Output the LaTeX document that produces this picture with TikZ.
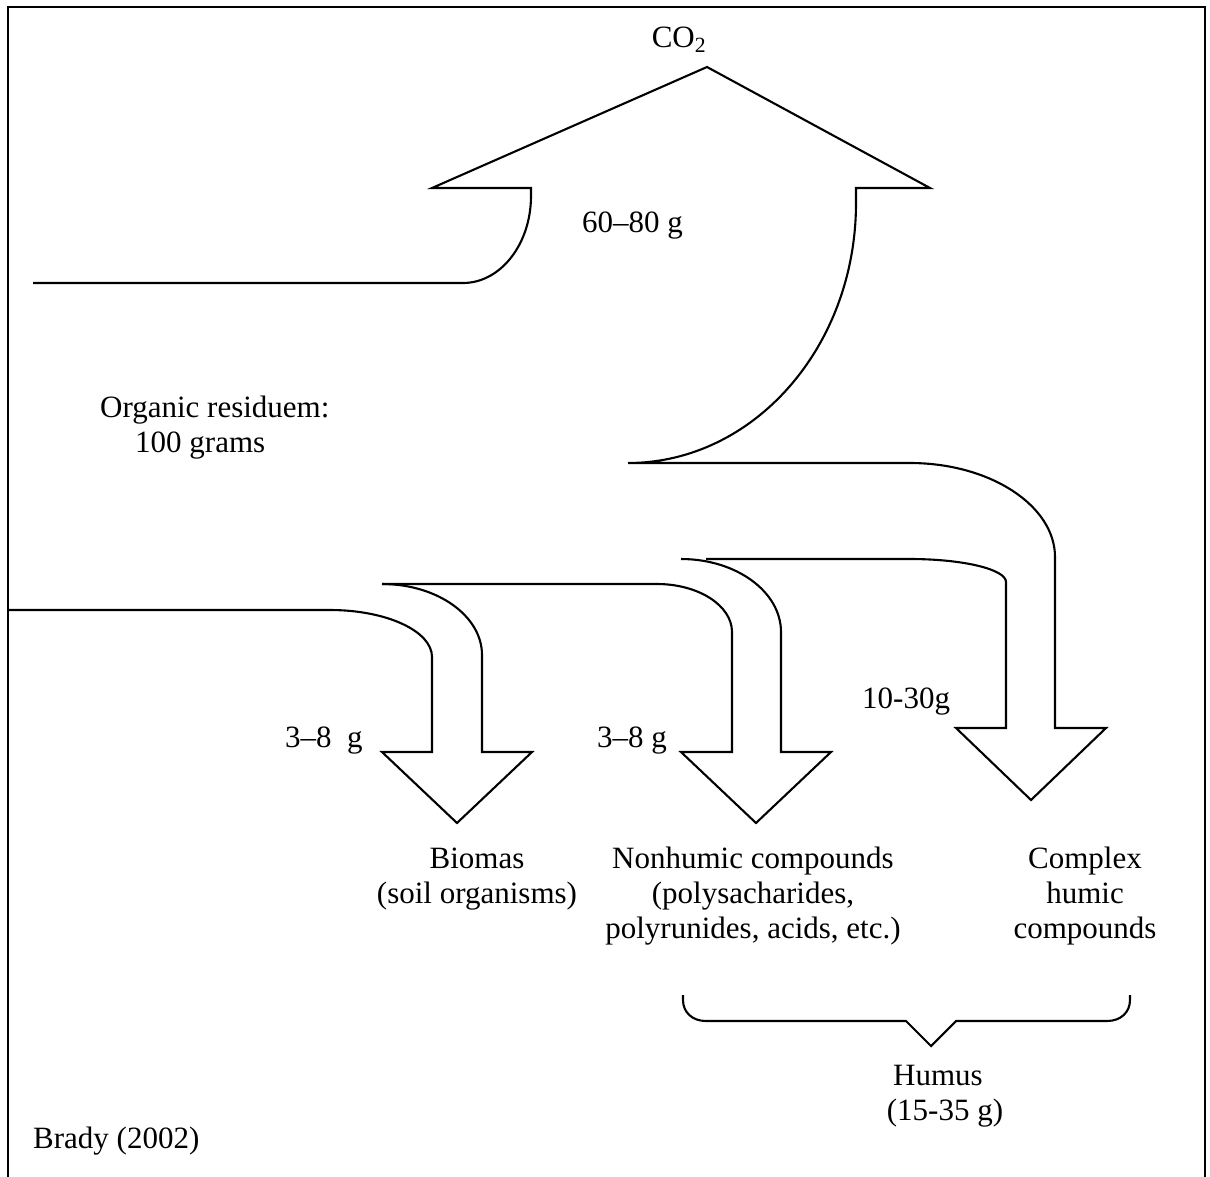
\documentclass[tikz,border=0pt]{standalone}
\usepackage{fontspec}
\setmainfont{Liberation Serif}
\begin{document}
\begin{tikzpicture}[x=1pt,y=-1pt,
  shape line/.style={line width=2.1pt, line join=miter},
  lbl/.style={inner sep=0pt, font=\fontsize{31}{35}\selectfont},
  lblc/.style={lbl, align=center}]
\useasboundingbox (0,0) rectangle (1210,1176);
% frame
\draw[line width=2.6pt] (8,1180) -- (8,7) -- (1205,7) -- (1205,1180);

% big up arrow (CO2) and the branch to complex humic compounds
\draw[shape line] (33,283) -- (463,283)
  .. controls (500.6,283) and (531,244) .. (531,196) -- (531,188)
  -- (432,188) -- (707,67) -- (930,188) -- (856,188) -- (856,203)
  .. controls (856,346.6) and (753.9,463) .. (628,463) -- (910,463)
  .. controls (990,463) and (1055,505.6) .. (1055,557) -- (1055,728)
  -- (1106,728) -- (1031,800) -- (956,728) -- (1006,728) -- (1006,582)
  .. controls (1006,569.3) and (963,559) .. (910,559) -- (706,559);

% second down arrow (nonhumic)
\draw[shape line] (681,559) .. controls (736.2,559) and (781,591.7) .. (781,632)
  -- (781,752) -- (831,752) -- (756,823) -- (681,752) -- (732,752) -- (732,632)
  .. controls (732,605.5) and (698.4,584) .. (657,584) -- (382,584);

% first down arrow (biomas)
\draw[shape line] (382,584) .. controls (437.2,584) and (482,615.8) .. (482,655)
  -- (482,752) -- (532,752) -- (457,823) -- (382,752) -- (432,752) -- (432,657)
  .. controls (432,631) and (386.3,610) .. (330,610) -- (8,610);

% brace
\draw[shape line] (683,995) -- (683,1000)
  .. controls (683,1012) and (692,1021) .. (706,1021) -- (906,1021)
  -- (931,1046) -- (956,1021) -- (1107,1021)
  .. controls (1121,1021) and (1130,1012) .. (1130,1000) -- (1130,995);

% labels
\node[lbl, anchor=base] (co2) at (679,47) {CO\textsubscript{2}};
\node[lbl, anchor=base west] (g6080) at (582,232) {60–80 g};
\node[lbl, anchor=base west] (org1) at (100,417) {Organic residuem:};
\node[lbl, anchor=base west] (org2) at (135,452) {100 grams};
\node[lbl, anchor=base west] (g38a) at (285,747) {3–8\ \ g};
\node[lbl, anchor=base west] (g38b) at (597,747) {3–8 g};
\node[lbl, anchor=base west] (g1030) at (862,708) {10-30g};
\node[lblc, anchor=base] (biomas) at (477,903) {Biomas\\(soil organisms)};
\node[lblc, anchor=base] (nonhum) at (753,938) {Nonhumic compounds\\(polysacharides,\\polyrunides, acids, etc.)};
\node[lblc, anchor=base] (complex) at (1085,938) {Complex\\humic\\compounds};
\node[lbl, anchor=base] (humus) at (938,1085) {Humus};
\node[lbl, anchor=base] (humusg) at (945,1120) {(15-35 g)};
\node[lbl, anchor=base west] (brady) at (33,1148) {Brady (2002)};
\end{tikzpicture}
\end{document}
